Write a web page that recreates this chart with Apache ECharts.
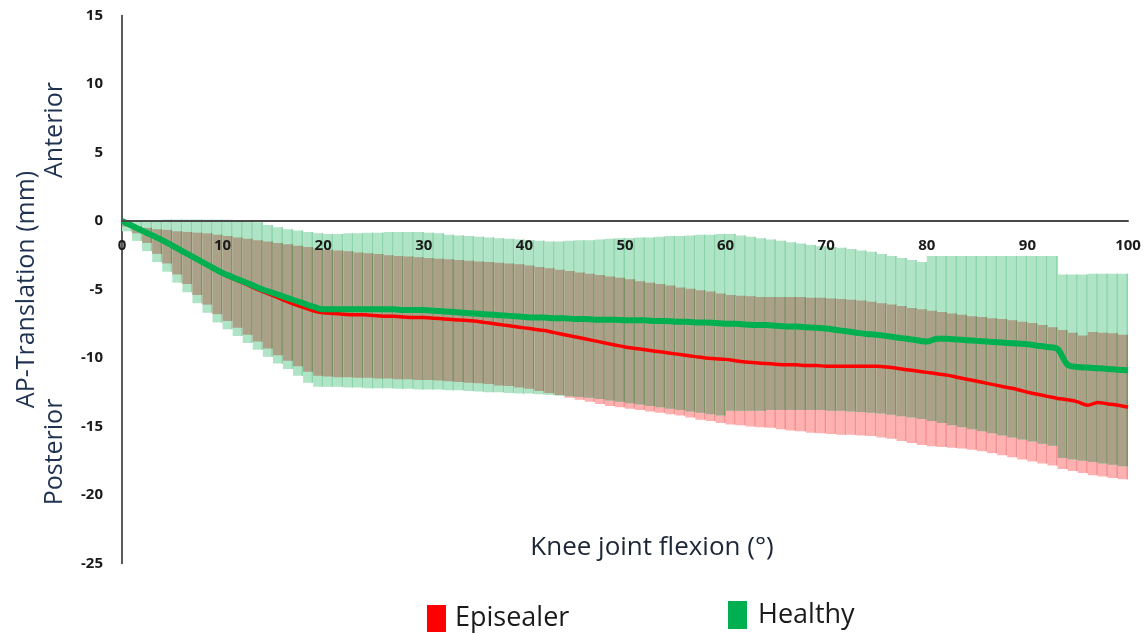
<!DOCTYPE html>
<html>
<head>
<meta charset="utf-8">
<script src="https://cdn.jsdelivr.net/npm/echarts@6/dist/echarts.min.js"></script>
<style>
html,body{margin:0;padding:0;background:#fff;}
#chart{width:1147px;height:634px;}
</style>
</head>
<body>
<div id="chart"></div>
<script>
// Knee joint flexion (degrees), 0..100
var flexion = [];
for (var k = 0; k <= 100; k++) flexion.push(k);

var xTicks = [0,10,20,30,40,50,60,70,80,90,100];
var yTicks = [-25,-20,-15,-10,-5,0,5,10,15];

// Episealer mean AP translation (mm)
var episealerMean = [0,
 -0.35,-0.7,-1.05,-1.4,-1.8,-2.2,-2.6,-3.0,-3.4,-3.85,
 -4.2,-4.5,-4.85,-5.15,-5.45,-5.75,-6.05,-6.3,-6.55,-6.7,
 -6.75,-6.8,-6.85,-6.85,-6.9,-6.95,-6.95,-7.0,-7.05,-7.05,
 -7.1,-7.15,-7.2,-7.25,-7.3,-7.4,-7.5,-7.6,-7.7,-7.8,
 -7.9,-8.0,-8.15,-8.3,-8.45,-8.6,-8.75,-8.9,-9.05,-9.2,
 -9.3,-9.4,-9.5,-9.6,-9.7,-9.8,-9.9,-10.0,-10.05,-10.1,
 -10.2,-10.3,-10.35,-10.4,-10.45,-10.5,-10.5,-10.55,-10.55,-10.6,
 -10.6,-10.6,-10.6,-10.6,-10.6,-10.65,-10.75,-10.85,-10.95,-11.05,
 -11.15,-11.25,-11.4,-11.55,-11.7,-11.85,-12.0,-12.15,-12.3,-12.5,
 -12.65,-12.8,-12.95,-13.05,-13.2,-13.45,-13.25,-13.35,-13.45,-13.6];

// Episealer band (mean +/- SD)
var episealerUpper = [0,
 -0.3,-0.4,-0.5,-0.6,-0.65,-0.75,-0.8,-0.85,-0.9,-1.0,
 -1.1,-1.2,-1.3,-1.4,-1.5,-1.6,-1.7,-1.8,-1.9,-2.0,
 -2.1,-2.15,-2.2,-2.3,-2.35,-2.4,-2.5,-2.55,-2.6,-2.65,
 -2.7,-2.75,-2.8,-2.85,-2.9,-2.95,-3.0,-3.05,-3.1,-3.15,
 -3.25,-3.35,-3.45,-3.55,-3.65,-3.75,-3.85,-3.95,-4.05,-4.15,
 -4.25,-4.4,-4.5,-4.6,-4.7,-4.85,-4.95,-5.05,-5.15,-5.3,
 -5.4,-5.45,-5.5,-5.55,-5.55,-5.55,-5.55,-5.55,-5.6,-5.6,
 -5.65,-5.7,-5.75,-5.8,-5.9,-6.0,-6.1,-6.2,-6.35,-6.45,
 -6.55,-6.65,-6.75,-6.85,-6.95,-7.0,-7.1,-7.15,-7.25,-7.35,
 -7.45,-7.6,-7.75,-7.95,-8.15,-8.35,-8.1,-8.15,-8.2,-8.3];
var episealerLower = [0,
 -0.4,-0.9,-1.6,-2.4,-3.1,-3.9,-4.6,-5.4,-6.1,-6.8,
 -7.3,-7.8,-8.3,-8.8,-9.3,-9.8,-10.2,-10.6,-11.0,-11.3,
 -11.35,-11.4,-11.4,-11.45,-11.45,-11.5,-11.5,-11.55,-11.55,-11.6,
 -11.6,-11.65,-11.7,-11.75,-11.8,-11.85,-11.9,-12.0,-12.05,-12.15,
 -12.25,-12.4,-12.55,-12.7,-12.9,-13.05,-13.2,-13.35,-13.5,-13.6,
 -13.7,-13.8,-13.9,-14.0,-14.1,-14.2,-14.35,-14.5,-14.6,-14.75,
 -14.85,-14.9,-15.0,-15.05,-15.1,-15.2,-15.3,-15.35,-15.45,-15.5,
 -15.55,-15.6,-15.6,-15.65,-15.7,-15.8,-15.9,-16.05,-16.2,-16.35,
 -16.45,-16.5,-16.55,-16.6,-16.7,-16.8,-16.95,-17.1,-17.25,-17.4,
 -17.55,-17.7,-17.85,-18.1,-18.25,-18.4,-18.55,-18.65,-18.75,-18.85];

// Healthy mean AP translation (mm)
var healthyMean = [0,
 -0.35,-0.7,-1.05,-1.4,-1.8,-2.2,-2.6,-3.0,-3.4,-3.8,
 -4.1,-4.4,-4.7,-5.0,-5.25,-5.5,-5.75,-6.0,-6.25,-6.45,
 -6.45,-6.45,-6.45,-6.45,-6.45,-6.45,-6.45,-6.5,-6.5,-6.5,
 -6.55,-6.6,-6.65,-6.7,-6.75,-6.8,-6.85,-6.9,-6.95,-7.0,
 -7.05,-7.05,-7.1,-7.1,-7.15,-7.15,-7.2,-7.2,-7.2,-7.25,
 -7.25,-7.25,-7.3,-7.3,-7.35,-7.35,-7.4,-7.4,-7.45,-7.5,
 -7.5,-7.55,-7.6,-7.6,-7.65,-7.7,-7.7,-7.75,-7.8,-7.85,
 -7.95,-8.05,-8.15,-8.25,-8.3,-8.4,-8.5,-8.6,-8.7,-8.8,
 -8.6,-8.6,-8.65,-8.7,-8.75,-8.8,-8.85,-8.9,-8.95,-9.0,
 -9.1,-9.2,-9.35,-10.5,-10.65,-10.7,-10.75,-10.8,-10.85,-10.9];

// Healthy band (mean +/- SD)
var healthyUpper = [0,
 0,0.05,0.05,0.05,0.1,0.1,0.1,0.1,0.1,0.1,
 0.1,0.05,0,-0.1,-0.3,-0.45,-0.6,-0.7,-0.8,-0.9,
 -0.95,-0.95,-0.9,-0.9,-0.85,-0.85,-0.8,-0.8,-0.8,-0.8,
 -0.85,-0.9,-1.0,-1.05,-1.1,-1.15,-1.2,-1.25,-1.3,-1.35,
 -1.4,-1.45,-1.5,-1.5,-1.45,-1.4,-1.4,-1.35,-1.3,-1.25,
 -1.25,-1.2,-1.2,-1.15,-1.1,-1.1,-1.05,-1.0,-1.0,-0.95,
 -0.95,-1.05,-1.15,-1.25,-1.35,-1.45,-1.55,-1.65,-1.75,-1.85,
 -1.9,-1.95,-2.05,-2.15,-2.25,-2.4,-2.55,-2.7,-2.85,-3.0,
 -2.55,-2.55,-2.55,-2.55,-2.55,-2.55,-2.55,-2.55,-2.55,-2.55,
 -2.55,-2.55,-2.55,-3.9,-3.9,-3.9,-3.85,-3.85,-3.85,-3.85];
var healthyLower = [0,
 -0.75,-1.45,-2.2,-3.0,-3.7,-4.5,-5.2,-6.0,-6.7,-7.4,
 -7.9,-8.4,-8.9,-9.4,-9.9,-10.4,-10.8,-11.3,-11.8,-12.1,
 -12.1,-12.1,-12.15,-12.15,-12.2,-12.2,-12.2,-12.25,-12.25,-12.3,
 -12.3,-12.3,-12.35,-12.35,-12.4,-12.45,-12.5,-12.5,-12.55,-12.6,
 -12.6,-12.65,-12.7,-12.75,-12.8,-12.85,-12.9,-13.0,-13.1,-13.2,
 -13.3,-13.4,-13.5,-13.6,-13.7,-13.8,-13.9,-14.0,-14.1,-14.2,
 -13.85,-13.85,-13.85,-13.85,-13.8,-13.8,-13.8,-13.8,-13.8,-13.8,
 -13.85,-13.85,-13.9,-13.95,-14.0,-14.05,-14.15,-14.25,-14.35,-14.45,
 -14.6,-14.75,-14.9,-15.05,-15.2,-15.35,-15.5,-15.65,-15.8,-15.95,
 -16.1,-16.25,-16.4,-17.3,-17.4,-17.5,-17.6,-17.7,-17.8,-17.9];

var bandData = [];
for (var i = 1; i < flexion.length; i++) {
  bandData.push([flexion[i], episealerLower[i], episealerUpper[i], healthyLower[i], healthyUpper[i]]);
}
var eMeanData = flexion.map(function (x, j) { return [x, episealerMean[j]]; });
var hMeanData = flexion.map(function (x, j) { return [x, healthyMean[j]]; });

var COL = {
  red: '#ff0000', green: '#00b050',
  redFill: '#ffb0b0', greenFill: '#afe4c6', both: '#aba188',
  redLine: '#f39090', greenLine: '#8bd4aa', bothLine: '#7b9163'
};

function renderBand(params, api) {
  var x = api.value(0);
  var eLo = api.value(1), eHi = api.value(2), hLo = api.value(3), hHi = api.value(4);
  var x0 = api.coord([x - 1, 0])[0], x1 = api.coord([x, 0])[0];
  function Y(v) { return api.coord([x, v])[1]; }
  var w = x1 - x0;
  var children = [];
  function rect(top, bot, fill, line) {
    var yt = Y(top), yb = Y(bot);
    if (yb - yt <= 0) return;
    children.push({ type: 'rect', shape: { x: x0, y: yt, width: w, height: yb - yt }, style: { fill: fill } });
    children.push({ type: 'line', shape: { x1: x1 - 0.75, y1: yt, x2: x1 - 0.75, y2: yb }, style: { stroke: line, lineWidth: 1.5 } });
  }
  rect(eHi, eLo, COL.redFill, COL.redLine);
  rect(hHi, hLo, COL.greenFill, COL.greenLine);
  var oTop = Math.min(eHi, hHi), oBot = Math.max(eLo, hLo);
  if (oTop > oBot) rect(oTop, oBot, COL.both, COL.bothLine);
  return { type: 'group', children: children };
}

var GRID_TOP = 15.5, GRID_BOTTOM = 70.5, H = 634;
var plotH = H - GRID_TOP - GRID_BOTTOM;
var yMin = yTicks[0], yMax = yTicks[yTicks.length - 1];
// shift the x axis (line + labels) up to y = 0
var zeroOffset = -plotH * (0 - yMin) / (yMax - yMin);

var chart = echarts.init(document.getElementById('chart'), null, { renderer: 'canvas' });
var FONT = '"Open Sans", "Noto Sans", sans-serif';

chart.setOption({
  animation: false,
  backgroundColor: '#fff',
  grid: { left: 122, right: 19, top: GRID_TOP, bottom: GRID_BOTTOM, containLabel: false, outerBoundsMode: 'none' },
  xAxis: {
    type: 'value', min: xTicks[0], max: xTicks[xTicks.length - 1], interval: 10,
    position: 'bottom', offset: zeroOffset,
    axisLine: { onZero: false, lineStyle: { color: '#4a4a4a', width: 2 } },
    axisTick: { show: false },
    splitLine: { show: false },
    axisLabel: { margin: 17, color: '#1a1a1a', fontSize: 15, fontWeight: 'bold', fontFamily: FONT,
      formatter: function (v) { return xTicks.indexOf(v) >= 0 ? String(v) : ''; } },
    z: 5
  },
  yAxis: {
    type: 'value', min: yMin, max: yMax, interval: 5,
    axisLine: { show: true, onZero: false, lineStyle: { color: '#222', width: 1.5 } },
    axisTick: { show: false },
    splitLine: { show: false },
    axisLabel: { margin: 19, color: '#1a1a1a', fontSize: 15, fontWeight: 'bold', fontFamily: FONT,
      formatter: function (v) { return yTicks.indexOf(v) >= 0 ? String(v) : ''; } },
    name: 'AP-Translation (mm)', nameLocation: 'middle', nameGap: 83,
    nameTextStyle: { color: '#1f3251', fontSize: 25, fontFamily: FONT }
  },
  legend: [
    { data: ['Episealer'], left: 422, top: 600, icon: 'rect', itemWidth: 19, itemHeight: 27,
      textStyle: { fontSize: 27, color: '#1a1a1a', fontFamily: FONT, padding: [0, 0, 0, 4] } },
    { data: ['Healthy'], left: 723, top: 596, icon: 'rect', itemWidth: 19, itemHeight: 28,
      textStyle: { fontSize: 27, color: '#1a1a1a', fontFamily: FONT, padding: [0, 0, 0, 6] } }
  ],
  graphic: [
    { type: 'text', x: 652, y: 548, style: { text: 'Knee joint flexion (°)', fill: '#1c2636', font: '26px ' + FONT, textAlign: 'center', textVerticalAlign: 'middle' } },
    { type: 'text', x: 55, y: 130, rotation: Math.PI / 2, style: { text: 'Anterior', fill: '#1f3251', font: '25px ' + FONT, textAlign: 'center', textVerticalAlign: 'middle' } },
    { type: 'text', x: 55, y: 452, rotation: Math.PI / 2, style: { text: 'Posterior', fill: '#1f3251', font: '25px ' + FONT, textAlign: 'center', textVerticalAlign: 'middle' } }
  ],
  series: [
    { name: 'bands', type: 'custom', renderItem: renderBand, data: bandData, z: 1, silent: true,
      encode: { x: 0, y: [1, 2, 3, 4] } },
    { name: 'Episealer', type: 'line', data: eMeanData, showSymbol: false, smooth: 0.3,
      itemStyle: { color: COL.red }, lineStyle: { color: COL.red, width: 3.5 }, z: 3 },
    { name: 'Healthy', type: 'line', data: hMeanData, showSymbol: false, smooth: 0.3,
      itemStyle: { color: COL.green }, lineStyle: { color: COL.green, width: 6 }, z: 4 }
  ]
});
</script>
</body>
</html>
